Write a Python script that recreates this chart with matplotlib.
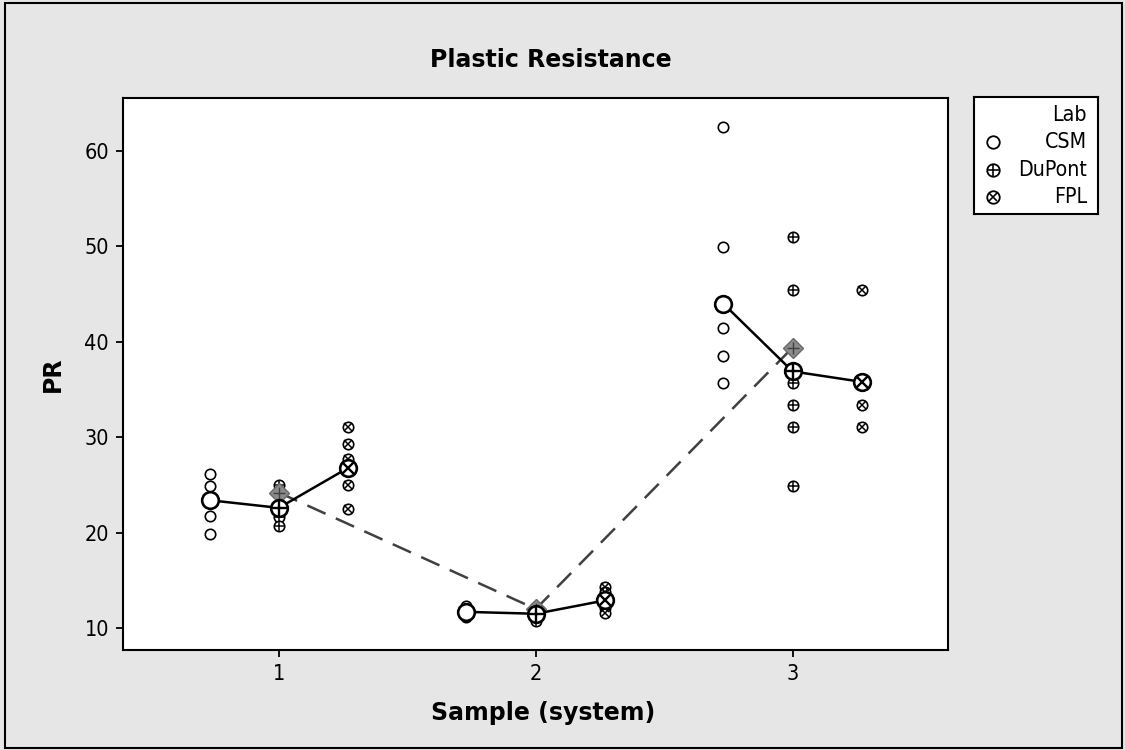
"""
Plastic resistance by sample and lab - individual values, lab means and sample means
"""

import matplotlib.pyplot as plt
from matplotlib.patches import Rectangle

# --- data ---
samples = [1, 2, 3]
labs = ['CSM', 'DuPont', 'FPL']

csm_values = [[26.1, 24.9, 23.4, 21.7, 19.9],
              [12.3, 12.0, 11.7, 11.4, 11.2],
              [62.5, 49.9, 41.5, 38.5, 35.7]]
dupont_values = [[25.0, 24.2, 21.6, 20.7],
                 [12.2, 11.8, 11.3, 10.9, 10.7],
                 [51.0, 45.4, 35.7, 33.4, 31.1, 24.9]]
fpl_values = [[31.1, 29.3, 27.7, 25.0, 22.5],
              [14.3, 13.8, 12.6, 12.1, 11.6],
              [45.4, 33.4, 31.1]]

csm_means = [23.4, 11.7, 44.0]
dupont_means = [22.6, 11.5, 36.9]
fpl_means = [26.8, 12.9, 35.8]
sample_means = [24.2, 12.0, 39.4]

LAB_OFFSET = {'CSM': -0.27, 'DuPont': 0.0, 'FPL': 0.27}
BG = '#e6e6e6'

plt.rcParams['font.family'] = ['DejaVu Sans']
plt.rcParams['font.stretch'] = 'condensed'


def labMarker(ax, x, y, lab, size, lw, color='black', zorder=3):
    # circle, plus-circle or cross-circle
    ax.plot(x, y, ls='none', marker='o', ms=size, mfc='white', mec=color, mew=lw, zorder=zorder)
    if lab == 'DuPont':
        ax.plot(x, y, ls='none', marker='+', ms=size, mec=color, mew=lw * 0.9, zorder=zorder + 0.1)
    elif lab == 'FPL':
        ax.plot(x, y, ls='none', marker='x', ms=size * 0.68, mec=color, mew=lw * 0.9, zorder=zorder + 0.1)


fig = plt.figure(figsize=(11.25, 7.5), dpi=100)
fig.patch.set_facecolor(BG)
fig.patches.append(Rectangle((0.004, 0.003), 0.993, 0.993, transform=fig.transFigure,
                             fill=False, ec='black', lw=1.5))

ax = fig.add_axes([0.1093, 0.1333, 0.7334, 0.736])
ax.set_facecolor('white')

allValues = {'CSM': csm_values, 'DuPont': dupont_values, 'FPL': fpl_values}
allMeans = {'CSM': csm_means, 'DuPont': dupont_means, 'FPL': fpl_means}

# individual observations
for lab in labs:
    for s, vals in zip(samples, allValues[lab]):
        x = [s + LAB_OFFSET[lab]] * len(vals)
        labMarker(ax, x, vals, lab, size=7.5, lw=1.2)

# grand means per sample (dashed)
ax.plot(samples, sample_means, ls=(0, (8, 4.5)), color='#404040', lw=1.8, zorder=4)
for s, m in zip(samples, sample_means):
    ax.plot(s, m, ls='none', marker='D', ms=10, mfc='#8a8a8a', mec='#6a6a6a', mew=1, zorder=5)
    ax.plot(s, m, ls='none', marker='+', ms=9, mec='#404040', mew=1, zorder=5.1)

# lab means within each sample
for s in samples:
    xs = [s + LAB_OFFSET[lab] for lab in labs]
    ys = [allMeans[lab][s - 1] for lab in labs]
    ax.plot(xs, ys, color='black', lw=1.8, zorder=6)
for lab in labs:
    for s, m in zip(samples, allMeans[lab]):
        labMarker(ax, s + LAB_OFFSET[lab], m, lab, size=12, lw=1.9, zorder=7)

ax.set_xlim(0.393, 3.605)
ax.set_ylim(7.7, 65.55)
ax.set_xticks(samples)
ax.set_yticks([10, 20, 30, 40, 50, 60])
ax.tick_params(labelsize=15.5, length=5, width=1.3, colors='black', pad=5)
for sp in ax.spines.values():
    sp.set_linewidth(1.5)

ax.set_xlabel('Sample (system)', fontsize=17, fontweight='bold', fontstretch='normal')
ax.xaxis.set_label_coords(0.509, -0.093, transform=ax.transAxes)
ax.set_ylabel('PR', fontsize=17, fontweight='bold', fontstretch='normal', labelpad=14)
fig.text(0.49, 0.92, 'Plastic Resistance', ha='center', va='center', fontsize=17,
         fontweight='bold', fontstretch='normal')

# legend box drawn by hand (markers left, labels right-aligned)
lax = fig.add_axes([974 / 1125, 1 - 214 / 750, 124 / 1125, 117 / 750])
lax.set_xlim(0, 124)
lax.set_ylim(117, 0)
lax.set_xticks([])
lax.set_yticks([])
for sp in lax.spines.values():
    sp.set_linewidth(1.5)
lax.text(113, 18, 'Lab', ha='right', va='center', fontsize=15.3)
for i, lab in enumerate(labs):
    yy = 45 + i * 27.5
    lax.text(113, yy, lab, ha='right', va='center', fontsize=15.3)
    labMarker(lax, 19, yy, lab, size=9, lw=1.3)

plt.savefig('out.png', dpi=100, facecolor=BG)
